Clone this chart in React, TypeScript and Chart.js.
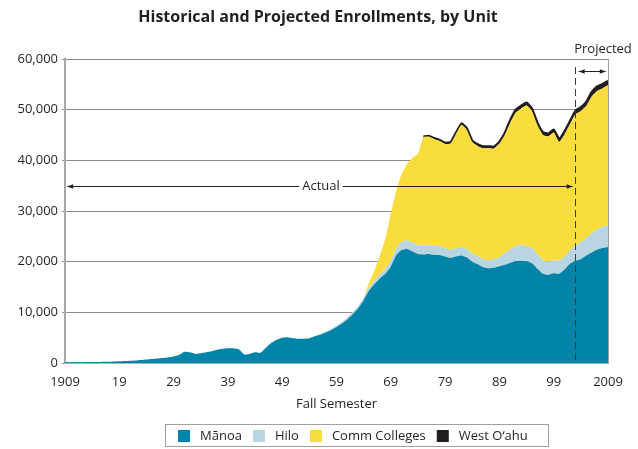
import React, { useEffect, useRef } from 'react';
import { Chart, registerables } from 'chart.js';

Chart.register(...registerables);

const FONT = '"Open Sans", "Noto Sans", sans-serif';
const TEXT = '#231F20';

const TITLE = 'Historical and Projected Enrollments, by Unit';
const X_TITLE = 'Fall Semester';
const ACTUAL_LABEL = 'Actual';
const PROJECTED_LABEL = 'Projected';

const years = [
  1909, 1910, 1911, 1912, 1913, 1914, 1915, 1916, 1917, 1918,
  1919, 1920, 1921, 1922, 1923, 1924, 1925, 1926, 1927, 1928,
  1929, 1930, 1931, 1932, 1933, 1934, 1935, 1936, 1937, 1938,
  1939, 1940, 1941, 1942, 1943, 1944, 1945, 1946, 1947, 1948,
  1949, 1950, 1951, 1952, 1953, 1954, 1955, 1956, 1957, 1958,
  1959, 1960, 1961, 1962, 1963, 1964, 1965, 1966, 1967, 1968,
  1969, 1970, 1971, 1972, 1973, 1974, 1975, 1976, 1977, 1978,
  1979, 1980, 1981, 1982, 1983, 1984, 1985, 1986, 1987, 1988,
  1989, 1990, 1991, 1992, 1993, 1994, 1995, 1996, 1997, 1998,
  1999, 2000, 2001, 2002, 2003, 2004, 2005, 2006, 2007, 2008,
  2009,
];

const manoa = [
  150, 150, 150, 150, 200, 200, 200, 250, 250, 300,
  350, 400, 450, 500, 600, 700, 800, 900, 1000, 1100,
  1300, 1600, 2200, 2100, 1800, 1900, 2100, 2300, 2600, 2800,
  2900, 2900, 2700, 1700, 1800, 2100, 2000, 3000, 4000, 4600,
  5000, 5100, 4900, 4800, 4800, 4900, 5300, 5600, 6000, 6500,
  7100, 7800, 8600, 9600, 10800, 12400, 14300, 15600, 16700, 17600,
  19000, 21300, 22300, 22500, 22000, 21500, 21400, 21500, 21300, 21300,
  21000, 20700, 21000, 21200, 20800, 20000, 19500, 18900, 18700, 18800,
  19100, 19400, 19800, 20100, 20200, 20100, 19700, 18600, 17600, 17400,
  17700, 17600, 18500, 19600, 20200, 20500, 21200, 21800, 22400, 22700,
  22900,
];

const hilo = [
  0, 0, 0, 0, 0, 0, 0, 0, 0, 0,
  0, 0, 0, 0, 0, 0, 0, 0, 0, 0,
  0, 0, 0, 0, 0, 0, 0, 0, 0, 0,
  0, 0, 0, 0, 0, 0, 0, 0, 0, 0,
  0, 0, 0, 0, 0, 0, 100, 100, 150, 200,
  250, 300, 350, 400, 450, 500, 600, 700, 800, 1000,
  1200, 1400, 1600, 1700, 1800, 1800, 1800, 1800, 1800, 1800,
  1700, 1600, 1700, 1700, 1700, 1600, 1600, 1600, 1600, 1700,
  1800, 2300, 2600, 3000, 3100, 3000, 3000, 2900, 2700, 2600,
  2600, 2600, 2500, 2600, 3000, 3300, 3500, 3800, 4000, 4200,
  4300,
];

const commColleges = [
  0, 0, 0, 0, 0, 0, 0, 0, 0, 0,
  0, 0, 0, 0, 0, 0, 0, 0, 0, 0,
  0, 0, 0, 0, 0, 0, 0, 0, 0, 0,
  0, 0, 0, 0, 0, 0, 0, 0, 0, 0,
  0, 0, 0, 0, 0, 0, 0, 0, 0, 0,
  0, 0, 0, 0, 0, 0, 1000, 2000, 3700, 5900,
  9300, 11300, 13400, 15100, 16700, 18000, 21400, 21400, 21100, 20700,
  20500, 21000, 22500, 24100, 23500, 22000, 21700, 21900, 22100, 21800,
  22400, 23300, 25000, 26300, 26900, 27700, 27000, 25400, 24700, 24700,
  25200, 23400, 24100, 24900, 25900, 25900, 26000, 27000, 27300, 27300,
  27600,
];

const westOahu = [
  null, null, null, null, null, null, null, null, null, null,
  null, null, null, null, null, null, null, null, null, null,
  null, null, null, null, null, null, null, null, null, null,
  null, null, null, null, null, null, null, null, null, null,
  null, null, null, null, null, null, null, null, null, null,
  null, null, null, null, null, null, null, null, null, null,
  null, null, null, null, null, null, 100, 150, 200, 250,
  300, 300, 300, 300, 350, 350, 400, 400, 400, 400,
  400, 500, 600, 600, 600, 600, 600, 600, 600, 600,
  600, 700, 700, 700, 700, 800, 900, 900, 900, 900,
  900,
];

const seriesNames = ['Mānoa', 'Hilo', 'Comm Colleges', 'West O‘ahu'];
const seriesColors = ['#0284A8', '#B9D5E1', '#F9DD3C', '#231F20'];

const xTickValues = [1909, 1919, 1929, 1939, 1949, 1959, 1969, 1979, 1989, 1999, 2009];
const yTickStep = 10000;
const yMax = 60000;

const projectionStart = 2003;
const actualArrowFrom = 1909.4;
const actualArrowTo = 2002.5;
const actualArrowValue = 35000;
const projectedArrowFrom = 2003.6;
const projectedArrowTo = 2008.6;

function arrowHead(ctx: CanvasRenderingContext2D, x: number, y: number, dir: number) {
  ctx.beginPath();
  ctx.moveTo(x, y);
  ctx.lineTo(x - dir * 6, y - 2.2);
  ctx.lineTo(x - dir * 6, y + 2.2);
  ctx.closePath();
  ctx.fill();
}

const overlayPlugin = {
  id: 'overlay',
  afterDraw(chart: any) {
    const { ctx, chartArea, scales } = chart;
    const xs = scales.x;
    const ys = scales.y;
    ctx.save();

    // right frame line
    ctx.strokeStyle = '#a0a0a0';
    ctx.lineWidth = 1;
    ctx.beginPath();
    ctx.moveTo(Math.round(chartArea.right) + 0.5, chartArea.top);
    ctx.lineTo(Math.round(chartArea.right) + 0.5, chartArea.bottom);
    ctx.stroke();

    // title
    ctx.fillStyle = TEXT;
    ctx.font = `bold 16px ${FONT}`;
    ctx.textAlign = 'center';
    ctx.textBaseline = 'middle';
    ctx.fillText(TITLE, 318, 17);

    // x axis title
    ctx.font = `13px ${FONT}`;
    ctx.fillText(X_TITLE, (chartArea.left + chartArea.right) / 2, 404);

    // dashed projection divider
    const xd = Math.round(xs.getPixelForValue(projectionStart)) + 0.5;
    ctx.strokeStyle = '#3a3a3a';
    ctx.lineWidth = 1;
    ctx.setLineDash([7, 4]);
    ctx.beginPath();
    ctx.moveTo(xd, 67);
    ctx.lineTo(xd, chartArea.bottom);
    ctx.stroke();
    ctx.setLineDash([]);

    // Actual arrow
    const ay = Math.round(ys.getPixelForValue(actualArrowValue)) + 0.5;
    const ax1 = xs.getPixelForValue(actualArrowFrom);
    const ax2 = xs.getPixelForValue(actualArrowTo);
    ctx.font = `13px ${FONT}`;
    const atx = 321;
    const aw = ctx.measureText(ACTUAL_LABEL).width;
    ctx.strokeStyle = TEXT;
    ctx.fillStyle = TEXT;
    ctx.beginPath();
    ctx.moveTo(ax1, ay);
    ctx.lineTo(atx - aw / 2 - 3, ay);
    ctx.moveTo(atx + aw / 2 + 3, ay);
    ctx.lineTo(ax2, ay);
    ctx.stroke();
    arrowHead(ctx, ax1, ay, -1);
    arrowHead(ctx, ax2, ay, 1);
    ctx.textAlign = 'center';
    ctx.textBaseline = 'middle';
    ctx.fillText(ACTUAL_LABEL, atx, ay);

    // Projected arrow & label
    const py = 71.5;
    const px1 = xs.getPixelForValue(projectedArrowFrom);
    const px2 = xs.getPixelForValue(projectedArrowTo);
    ctx.beginPath();
    ctx.moveTo(px1, py);
    ctx.lineTo(px2, py);
    ctx.stroke();
    arrowHead(ctx, px1, py, -1);
    arrowHead(ctx, px2, py, 1);
    ctx.fillText(PROJECTED_LABEL, 603, 49);

    // legend
    const box = { x: 165.5, y: 424.5, w: 383, h: 22 };
    ctx.strokeStyle = '#a0a0a0';
    ctx.lineWidth = 1;
    ctx.strokeRect(box.x, box.y, box.w, box.h);
    ctx.font = `13px ${FONT}`;
    ctx.textAlign = 'left';
    ctx.textBaseline = 'middle';
    let lx = 178;
    const ly = 436;
    seriesNames.forEach((name, i) => {
      ctx.fillStyle = seriesColors[i];
      ctx.fillRect(lx, ly - 6, 12, 12);
      ctx.fillStyle = TEXT;
      ctx.fillText(name, lx + 22, ly);
      lx += 22 + ctx.measureText(name).width + 11;
    });

    ctx.restore();
  },
};

export default function App() {
  const canvasRef = useRef<HTMLCanvasElement | null>(null);

  useEffect(() => {
    const canvas = canvasRef.current;
    if (!canvas) return;
    const datasets = [manoa, hilo, commColleges, westOahu].map((d, i) => ({
      label: seriesNames[i],
      data: d,
      backgroundColor: seriesColors[i],
      borderColor: seriesColors[i],
      borderWidth: i === 3 ? 2 : 0,
      fill: i === 0 ? 'origin' : '-1',
      pointRadius: 0,
      pointHoverRadius: 0,
      tension: 0.15,
      spanGaps: false,
    }));

    const chart = new Chart(canvas, {
      type: 'line',
      data: { labels: years, datasets: datasets as any },
      plugins: [overlayPlugin],
      options: {
        responsive: false,
        animation: false,
        devicePixelRatio: 1,
        layout: { padding: { top: 59, right: 30, left: 0, bottom: 0 }, autoPadding: false } as any,
        plugins: {
          legend: { display: false },
          title: { display: false },
          tooltip: { enabled: false },
        },
        scales: {
          x: {
            type: 'linear',
            min: 1909,
            max: 2009,
            afterBuildTicks: (scale: any) => {
              scale.ticks = xTickValues.map((v) => ({ value: v }));
            },
            afterFit: (scale: any) => {
              scale.height = 86;
            },
            grid: { display: false, drawTicks: false },
            border: { display: true, color: '#b0b0b0', width: 2 },
            ticks: {
              padding: 11,
              color: TEXT,
              font: { family: FONT, size: 13 },
              maxRotation: 0,
              autoSkip: false,
              callback: (v: any) => {
                const n = Number(v);
                return n === 1909 || n === 2009 ? String(n) : String(n % 100).padStart(2, '0');
              },
            },
          },
          y: {
            stacked: true,
            min: 0,
            max: yMax,
            afterFit: (scale: any) => {
              scale.width = 65;
            },
            grid: { color: '#8a8a8a', lineWidth: 1, tickLength: 3, drawTicks: true },
            border: { display: true, color: '#a8a8a8', width: 2 },
            ticks: {
              stepSize: yTickStep,
              padding: 4,
              color: TEXT,
              font: { family: FONT, size: 13 },
              callback: (v: any) => Number(v).toLocaleString('en-US'),
            },
          },
        },
      },
    });
    return () => chart.destroy();
  }, []);

  return (
    <div style={{ position: 'fixed', left: 0, top: 0, width: 638, height: 449, background: '#fff' }}>
      <canvas ref={canvasRef} width={638} height={449} style={{ display: 'block' }} />
    </div>
  );
}
